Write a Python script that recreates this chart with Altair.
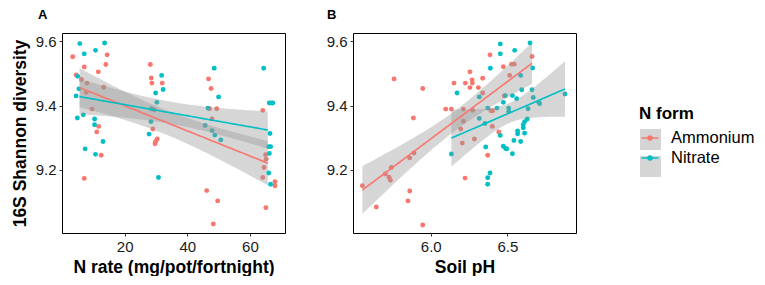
import altair as alt
import numpy as np
import pandas as pd

FORMS = ["Ammonium", "Nitrate"]
COLORS = ["#F8766D", "#00BFC4"]
Y_TICKS = [9.2, 9.4, 9.6]
Y_DOMAIN = [9.003, 9.626]
A_X_TICKS = [20, 40, 60]
A_X_DOMAIN = [0.0, 71.2]
B_X_TICKS = [6.0, 6.5]
B_X_DOMAIN = [5.493, 6.948]
NRATE_LEVELS = [5.6, 11.3, 30.0, 48.0, 65.7]

# Panel A: N rate (jittered as drawn) vs diversity
A_RED_X = [3.4, 14.4, 7.1, 14.0, 11.6, 4.5, 6.2, 8.0, 13.3, 7.7, 9.6, 11.7, 11.1, 12.5, 7.1,
           28.2, 28.5, 28.7, 32.0, 29.4, 29.0, 30.4, 29.9, 29.7,
           46.8, 47.6, 47.1, 49.4, 47.9, 46.2, 49.7, 48.3,
           64.1, 65.0, 65.2, 64.5, 64.1, 68.0, 68.0, 65.1]
A_RED_Y = [9.552, 9.558, 9.520, 9.528, 9.505, 9.495, 9.481, 9.470, 9.457, 9.441, 9.389, 9.335, 9.318, 9.245, 9.173,
           9.528, 9.486, 9.470, 9.470, 9.387, 9.327, 9.296, 9.288, 9.281,
           9.483, 9.453, 9.390, 9.390, 9.358, 9.135, 9.103, 9.031,
           9.385, 9.247, 9.233, 9.207, 9.176, 9.163, 9.150, 9.082]
A_TEAL_X = [5.7, 13.6, 7.1, 10.7, 5.0, 5.4, 4.5, 4.9, 6.8, 10.4, 10.4, 13.1, 7.4, 10.7,
            31.8, 32.3, 29.9, 30.3, 28.5, 28.4, 27.8, 30.8,
            48.6, 50.0, 46.6, 45.7, 47.9, 48.8, 50.7,
            64.4, 66.2, 66.9, 67.3, 66.4, 66.0, 66.6, 66.2, 66.0, 66.6]
A_TEAL_Y = [9.593, 9.595, 9.561, 9.572, 9.491, 9.452, 9.430, 9.361, 9.371, 9.358, 9.340, 9.288, 9.265, 9.248,
            9.494, 9.450, 9.439, 9.410, 9.390, 9.350, 9.311, 9.176,
            9.516, 9.427, 9.392, 9.338, 9.322, 9.308, 9.293,
            9.516, 9.408, 9.408, 9.408, 9.313, 9.272, 9.272, 9.251, 9.190, 9.155]

# Panel B: soil pH vs diversity
B_RED_X = [5.761, 5.948, 5.887, 5.554, 5.645, 5.704, 5.728, 5.737, 5.743, 5.863, 5.891, 5.863, 5.852, 5.948,
           6.387, 6.256, 6.152, 6.226, 6.270, 6.272, 6.256, 6.311, 6.339, 6.474, 6.339, 6.098, 6.135, 6.213,
           6.274, 6.393, 6.404, 6.213, 6.196, 6.402, 6.444, 6.285, 6.206, 6.372, 6.224,
           6.661, 6.528, 6.545, 6.515, 6.480]
B_RED_Y = [9.483, 9.453, 9.361, 9.150, 9.084, 9.187, 9.177, 9.167, 9.207, 9.237, 9.252, 9.134, 9.103, 9.028,
           9.558, 9.505, 9.470, 9.470, 9.480, 9.470, 9.456, 9.456, 9.485, 9.521, 9.439, 9.389, 9.389, 9.389,
           9.385, 9.384, 9.384, 9.351, 9.327, 9.335, 9.318, 9.296, 9.283, 9.245, 9.174,
           9.553, 9.529, 9.529, 9.494, 9.430]
B_TEAL_X = [6.454, 6.454, 6.389, 6.172, 6.317, 6.372, 6.432, 6.474, 6.317, 6.354, 6.454, 6.135, 6.359, 6.474,
            6.489, 6.387, 6.372, 6.372,
            6.648, 6.548, 6.665, 6.587, 6.594, 6.661, 6.533, 6.561, 6.487, 6.669, 6.705, 6.711, 6.635, 6.876,
            6.509, 6.509, 6.630, 6.613, 6.604, 6.604, 6.567, 6.567, 6.613, 6.543, 6.587, 6.496, 6.533]
B_TEAL_Y = [9.592, 9.561, 9.516, 9.439, 9.427, 9.392, 9.392, 9.410, 9.360, 9.344, 9.307, 9.249, 9.271, 9.273,
            9.266, 9.190, 9.175, 9.155,
            9.595, 9.572, 9.517, 9.494, 9.449, 9.449, 9.431, 9.421, 9.431, 9.425, 9.410, 9.406, 9.390, 9.436,
            9.392, 9.382, 9.358, 9.350, 9.340, 9.331, 9.321, 9.312, 9.314, 9.291, 9.288, 9.265, 9.250]


def t_quantile(dof):
    z = 1.959964
    return z + (z**3 + z) / (4 * dof) + (5 * z**5 + 16 * z**3 + 3 * z) / (96 * dof**2)


def smooth(x, y, form, key, n=80):
    x = np.asarray(x, float)
    y = np.asarray(y, float)
    X = np.column_stack([np.ones_like(x), x])
    beta = np.linalg.lstsq(X, y, rcond=None)[0]
    resid = y - X @ beta
    dof = len(x) - 2
    s2 = resid @ resid / dof
    xtxi = np.linalg.inv(X.T @ X)
    g = np.linspace(x.min(), x.max(), n)
    G = np.column_stack([np.ones_like(g), g])
    fit = G @ beta
    se = np.sqrt(np.einsum("ij,jk,ik->i", G, xtxi, G) * s2)
    t = t_quantile(dof)
    return pd.DataFrame({"x": g, "fit": fit, "lo": fit - t * se, "hi": fit + t * se,
                         "form": form, "key": key})


def nominal(xs):
    lv = np.asarray(NRATE_LEVELS)
    return [float(lv[np.argmin(np.abs(lv - v))]) for v in xs]


ptsA = pd.concat([
    pd.DataFrame({"x": A_RED_X, "y": A_RED_Y, "form": FORMS[0]}),
    pd.DataFrame({"x": A_TEAL_X, "y": A_TEAL_Y, "form": FORMS[1]}),
])
smA = pd.concat([
    smooth(nominal(A_RED_X), A_RED_Y, FORMS[0], "k1"),
    smooth(nominal(A_TEAL_X), A_TEAL_Y, FORMS[1], "k2"),
])
ptsB = pd.concat([
    pd.DataFrame({"x": B_RED_X, "y": B_RED_Y, "form": FORMS[0]}),
    pd.DataFrame({"x": B_TEAL_X, "y": B_TEAL_Y, "form": FORMS[1]}),
])
smB = pd.concat([
    smooth(B_RED_X, B_RED_Y, FORMS[0], "k1"),
    smooth(B_TEAL_X, B_TEAL_Y, FORMS[1], "k2"),
])

FONT = "Liberation Sans"
LEG_X = 577
LEG_Y = 73

color_legend = alt.Legend(
    title="N form", orient="none", legendX=LEG_X, legendY=LEG_Y,
    titleFontSize=17, titleFont=FONT, titleFontWeight="bold", titleColor="black",
    titlePadding=4, labelFontSize=16.5, labelFont=FONT, labelColor="black",
    labelOffset=10, symbolSize=400, rowPadding=0, padding=0, zindex=1,
    symbolType="M-0.85,0H0.85M-0.2,0A0.2,0.2,0,1,0,0.2,0A0.2,0.2,0,1,0,-0.2,0Z",
    symbolStrokeWidth=1.5, symbolOpacity=1,
)
grey_legend = alt.Legend(
    title=None, orient="none", legendX=LEG_X, legendY=LEG_Y + 22,
    symbolType="square", symbolSize=441, rowPadding=0, padding=0, zindex=0,
    labelExpr="''", labelFontSize=16.5, symbolFillColor="#d9d9d9",
    symbolStrokeColor="#d9d9d9", symbolOpacity=1,
)

color_enc = alt.Color("form:N", scale=alt.Scale(domain=FORMS, range=COLORS), legend=color_legend)


def panel(pts, sm, xdom, xticks, xfmt, xtitle, ytitle, label, ddx):
    xaxis = alt.Axis(values=xticks, title=xtitle, format=xfmt)
    yaxis = alt.Axis(values=Y_TICKS, title=ytitle, format=".1f")
    xs = alt.Scale(domain=xdom, nice=False, zero=False)
    ys = alt.Scale(domain=Y_DOMAIN, nice=False, zero=False)
    points = alt.Chart(pts).mark_circle(size=24, opacity=1).encode(
        x=alt.X("x:Q", scale=xs, axis=xaxis),
        y=alt.Y("y:Q", scale=ys, axis=yaxis),
        color=color_enc,
    )
    band = alt.Chart(sm).mark_area(color="#999999").encode(
        x=alt.X("x:Q", scale=xs, axis=xaxis),
        y=alt.Y("lo:Q", scale=ys, axis=yaxis),
        y2="hi:Q",
        detail="form:N",
        opacity=alt.Opacity("key:O", scale=alt.Scale(domain=["k1", "k2"], range=[0.4, 0.4]),
                            legend=grey_legend),
    )
    line = alt.Chart(sm).mark_line(strokeWidth=1.6).encode(
        x=alt.X("x:Q", scale=xs, axis=xaxis),
        y=alt.Y("fit:Q", scale=ys, axis=yaxis),
        color=color_enc,
    )
    return alt.layer(points, band, line).properties(
        width=223, height=200,
        title=alt.TitleParams(label, anchor="start", frame="group", dx=ddx, fontSize=13,
                              font=FONT, fontWeight="bold", color="black", offset=11),
    )


pA = panel(ptsA, smA, A_X_DOMAIN, A_X_TICKS, "d", "N rate (mg/pot/fortnight)", "16S Shannon diversity", "A", -24)
pB = panel(ptsB, smB, B_X_DOMAIN, B_X_TICKS, ".1f", "Soil pH", None, "B", -26)

chart = alt.hconcat(pA, pB, spacing=39).properties(
    padding={"left": 10, "top": 8, "right": 0, "bottom": 0},
    background="white",
).configure_view(
    stroke="black", strokeWidth=1,
).configure_axis(
    grid=False, domain=False, ticks=True, tickSize=3, tickColor="#333333",
    labelFont=FONT, labelFontSize=15, labelColor="#1a1a1a", labelPadding=3,
    titleFont=FONT, titleFontSize=17.5, titleFontWeight="bold", titleColor="black",
).configure_axisX(titlePadding=4).configure_axisY(titlePadding=6)

chart.save("out.html", embed_options={"renderer": "svg", "actions": False})
